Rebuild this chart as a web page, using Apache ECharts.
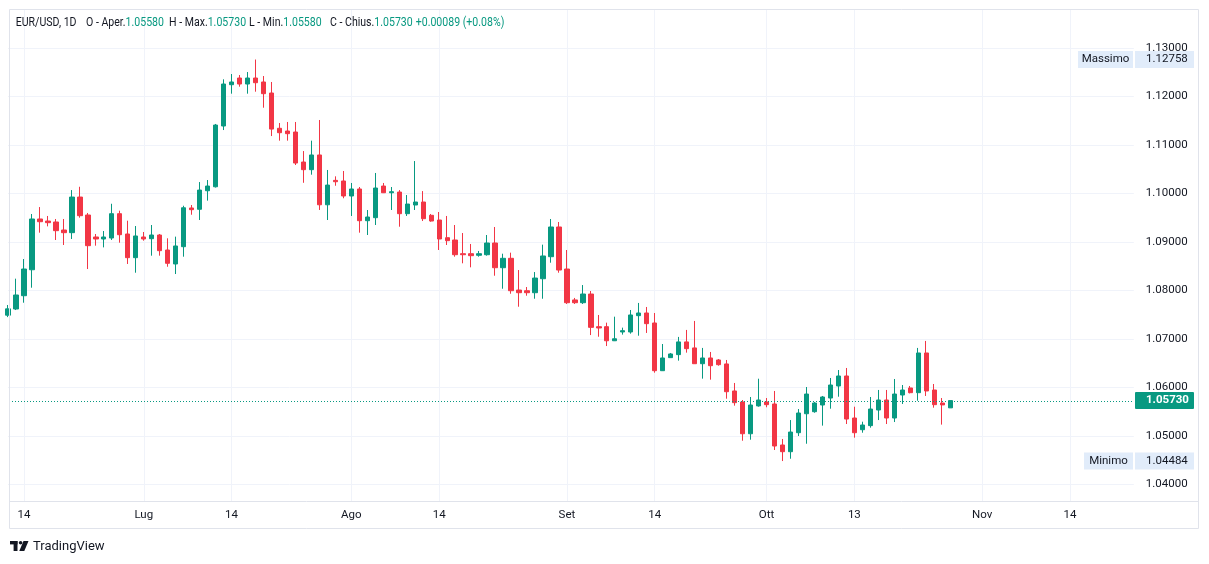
<!DOCTYPE html>
<html><head><meta charset="utf-8">
<script src="https://cdn.jsdelivr.net/npm/echarts@6/dist/echarts.min.js"></script>
<style>html,body{margin:0;padding:0;background:#fff}#c{width:1209px;height:564px}</style>
</head><body><div id="c"></div>
<script>
// ---- data (EUR/USD daily, bars Sun–Fri) ----
const symbol = 'EUR/USD, 1D';
const firstDate = '2023-06-12';
const categoryCount = 142; // includes empty future slots
const opens = [1.0749,1.07617,1.07891,1.08426,1.09472,1.0943,1.0941,1.09245,1.0919,1.09924,
1.09554,1.09101,1.0906,1.0908,1.09581,1.09163,1.08675,1.09101,1.09066,1.09142,
1.08833,1.08545,1.08901,1.09699,1.09672,1.10054,1.10136,1.11388,1.12239,1.12377,
1.12253,1.12377,1.12295,1.12068,1.11341,1.11285,1.11264,1.10646,1.10488,1.10791,
1.09765,1.10268,1.10255,1.09946,1.1009,1.09437,1.09499,1.10151,1.10013,1.10027,
1.09581,1.0976,1.09822,1.09548,1.09451,1.09087,1.09039,1.08757,1.08757,1.08724,
1.08736,1.08977,1.08468,1.08662,1.08008,1.07994,1.07953,1.08241,1.08695,1.09307,
1.08441,1.07804,1.07747,1.07926,1.07253,1.07253,1.06963,1.07144,1.07144,1.0748,
1.07535,1.07329,1.06346,1.06615,1.06677,1.06939,1.06815,1.0649,1.06608,1.06567,
1.06485,1.05928,1.05701,1.05047,1.0562,1.05701,1.0566,1.04815,1.04677,1.05068,
1.05459,1.05501,1.05639,1.05783,1.06031,1.06237,1.05371,1.0513,1.05214,1.05536,
1.05742,1.05371,1.05845,1.0599,1.05893,1.06711,1.05948,1.0568,1.0558];
const highs = [1.0770,1.08242,1.08647,1.09575,1.09718,1.09534,1.09472,1.09472,1.10068,1.10136,
1.09596,1.09163,1.09224,1.09786,1.09643,1.09437,1.09327,1.09204,1.09348,1.09163,
1.09074,1.09108,1.09745,1.0976,1.10233,1.10275,1.1143,1.1235,1.12459,1.12439,
1.125,1.12758,1.12418,1.12295,1.1145,1.11471,1.11471,1.10872,1.11086,1.11512,
1.10482,1.10351,1.10461,1.10214,1.10131,1.09657,1.1042,1.10214,1.10131,1.10068,
1.09966,1.10666,1.10047,1.09575,1.09616,1.09534,1.09348,1.09183,1.08957,1.08813,
1.09142,1.09307,1.08757,1.08778,1.0842,1.0807,1.08379,1.08943,1.09472,1.0941,
1.08833,1.07845,1.08111,1.07988,1.07494,1.07336,1.07459,1.07233,1.07597,1.07742,
1.07659,1.07535,1.06896,1.06711,1.07042,1.07186,1.07371,1.06815,1.06732,1.06587,
1.06567,1.06093,1.05742,1.05804,1.06181,1.05783,1.05928,1.04939,1.05329,1.05556,
1.0601,1.05701,1.05825,1.06196,1.0636,1.06402,1.05604,1.05295,1.05804,1.05949,
1.05949,1.06175,1.06051,1.06031,1.06815,1.06959,1.06072,1.05783,1.0573];
const lows = [1.0745,1.07596,1.07747,1.08056,1.0919,1.0932,1.09039,1.08936,1.0906,1.09499,
1.08441,1.08922,1.08887,1.09039,1.08984,1.08545,1.08365,1.09025,1.08716,1.08716,
1.08488,1.08338,1.08695,1.0956,1.09451,1.0985,1.1012,1.11305,1.12054,1.12198,
1.12054,1.12095,1.11765,1.11181,1.11086,1.11086,1.10584,1.10218,1.10385,1.09658,
1.09451,1.10157,1.09899,1.09534,1.0919,1.09142,1.09348,1.10007,1.09657,1.09313,
1.09534,1.09657,1.0943,1.09416,1.08833,1.08936,1.08695,1.08559,1.08476,1.08695,
1.08716,1.08303,1.08035,1.07932,1.07664,1.07891,1.07829,1.07829,1.08571,1.08365,
1.07721,1.07721,1.07721,1.0708,1.07046,1.06854,1.06957,1.07089,1.07109,1.07067,
1.07124,1.06305,1.0634,1.06615,1.06553,1.06718,1.06485,1.06182,1.06161,1.06449,
1.05769,1.05625,1.04903,1.04924,1.05605,1.05592,1.04712,1.04484,1.04532,1.05,
1.04841,1.0548,1.05214,1.05563,1.0581,1.05247,1.04966,1.05068,1.05172,1.05329,
1.05247,1.05288,1.0566,1.05879,1.05727,1.05825,1.05584,1.05235,1.0558];
const closes = [1.0762,1.07906,1.08441,1.09472,1.09416,1.09396,1.09231,1.0919,1.09924,1.0954,
1.08922,1.0906,1.09101,1.09581,1.09148,1.08675,1.09122,1.0906,1.09142,1.08819,
1.08559,1.08916,1.09703,1.09664,1.10068,1.10151,1.11408,1.12253,1.12295,1.12253,
1.12377,1.1228,1.12054,1.11325,1.1125,1.1123,1.10625,1.10488,1.10791,1.09765,
1.10171,1.1024,1.09946,1.1009,1.09437,1.09513,1.1011,1.10013,1.10034,1.09581,
1.0978,1.09822,1.09478,1.0943,1.0906,1.09025,1.08736,1.08736,1.08716,1.08757,
1.08977,1.08468,1.08662,1.07994,1.07953,1.07953,1.08255,1.0871,1.09307,1.0842,
1.07747,1.07747,1.07926,1.07239,1.07226,1.06963,1.07004,1.07171,1.07494,1.07535,
1.07315,1.06346,1.06608,1.06691,1.06939,1.068,1.0649,1.06608,1.06449,1.0647,
1.05913,1.05687,1.05047,1.05639,1.05742,1.05646,1.04794,1.04677,1.05082,1.05474,
1.05865,1.0568,1.05804,1.06051,1.06237,1.0535,1.05068,1.05227,1.05556,1.05742,
1.05371,1.05865,1.05948,1.05893,1.06711,1.05928,1.05646,1.05641,1.0573];
const tickLabels = {'2023-06-14':'14','2023-07-02':'Lug','2023-07-14':'14','2023-08-01':'Ago',
'2023-08-14':'14','2023-09-01':'Set','2023-09-14':'14','2023-10-01':'Ott','2023-10-13':'13',
'2023-11-01':'Nov','2023-11-14':'14'};
const priceTicks = [1.04,1.05,1.06,1.07,1.08,1.09,1.10,1.11,1.12,1.13];

// ---- build ----
const categories = [];
{
  let t = Date.parse(firstDate + 'T00:00:00Z');
  while (categories.length < categoryCount) {
    const d = new Date(t);
    if (d.getUTCDay() !== 6) categories.push(d.toISOString().slice(0, 10));
    t += 86400000;
  }
}
const ohlc = opens.map((o, i) => [o, closes[i], lows[i], highs[i]]);
const n = closes.length;
const lastClose = closes[n - 1];
const maxHigh = Math.max(...highs);
const minLow = Math.min(...lows);
const change = lastClose - closes[n - 2];
const changePct = change / closes[n - 2] * 100;

const UP = '#089981', DOWN = '#F23645', TXT = '#131722', GRID = '#f0f3fa', BORDER = '#e0e3eb';
const FONT = 'Roboto, "Liberation Sans", sans-serif';
const isTick = (idx, val) => !!tickLabels[val];

const chart = echarts.init(document.getElementById('c'), null, {renderer: 'canvas'});
chart.setOption({
  animation: false,
  backgroundColor: '#ffffff',
  grid: {left: 8.03, right: 75.2, top: 9, bottom: 63, containLabel: false},
  xAxis: {
    type: 'category', data: categories, boundaryGap: false,
    axisLine: {show: false},
    axisTick: {show: false, interval: isTick},
    axisLabel: {interval: isTick, formatter: v => tickLabels[v] || '', color: TXT,
      fontSize: 11.5, fontFamily: FONT, margin: 8},
    splitLine: {show: true, interval: isTick, lineStyle: {color: GRID, width: 1}}
  },
  yAxis: {
    type: 'value', position: 'right', min: 1.03661, max: 1.13799,
    axisLine: {show: false},
    axisTick: {show: false, customValues: priceTicks},
    axisLabel: {customValues: priceTicks, formatter: v => v.toFixed(5), color: TXT,
      fontSize: 11.5, fontFamily: FONT, margin: 12, align: 'left'},
    splitLine: {show: true, lineStyle: {color: GRID, width: 1}}
  },
  series: [{
    type: 'candlestick', data: ohlc, barWidth: 4.8, clip: true,
    itemStyle: {color: UP, color0: DOWN, borderColor: UP, borderColor0: DOWN, borderWidth: 1}
  }]
});

const yPix = v => chart.convertToPixel({yAxisIndex: 0}, v);
const fmt = v => v.toFixed(5);
const sign = v => (v >= 0 ? '+' : '');
const header = [
  {x: 15.7, parts: [[symbol, 'l']]},
  {x: 86, parts: [['O - Aper.', 'l'], [fmt(opens[n - 1]), 'v']]},
  {x: 169, parts: [['H - Max.', 'l'], [fmt(highs[n - 1]), 'v']]},
  {x: 249, parts: [['L - Min.', 'l'], [fmt(lows[n - 1]), 'v']]},
  {x: 330, parts: [['C - Chius.', 'l'], [fmt(lastClose), 'v']]},
  {x: 415.7, parts: [[sign(change) + change.toFixed(5) + ' (' + sign(changePct) + changePct.toFixed(2) + '%)', 'v']]}
];
const g = [];
// frame
g.push({type: 'rect', z: 50, shape: {x: 9.5, y: 9.5, width: 1189, height: 519}, style: {fill: null, stroke: BORDER, lineWidth: 1}});
g.push({type: 'line', z: 50, shape: {x1: 9, y1: 501.5, x2: 1199, y2: 501.5}, style: {stroke: BORDER, lineWidth: 1}});
// last price dotted line
const yl = Math.round(yPix(lastClose)) + 0.5;
g.push({type: 'line', z: 40, shape: {x1: 9, y1: yl, x2: 1134, y2: yl}, style: {stroke: UP, lineWidth: 1, lineDash: [1, 2]}});
header.forEach(h => g.push({type: 'text', z: 60, x: h.x, y: 23, scaleX: 0.88,
  style: {text: h.parts.map(p => '{' + p[1] + '|' + p[0] + '}').join(''), font: '12px ' + FONT,
    verticalAlign: 'middle', align: 'left',
    rich: {l: {fill: TXT, font: '12px ' + FONT}, v: {fill: UP, font: '12px ' + FONT}}}}));
// price tags
function tag(label, value, y) {
  if (label) {
    const w = label === 'Massimo' ? 55 : 49;
    g.push({type: 'rect', z: 70, shape: {x: 1133 - w, y: y - 8.5, width: w, height: 17}, style: {fill: '#e1ecfa'}});
    g.push({type: 'text', z: 71, x: 1133 - w / 2, y: y,
      style: {text: label, fill: TXT, font: '11.5px ' + FONT, align: 'center', verticalAlign: 'middle'}});
    g.push({type: 'rect', z: 70, shape: {x: 1135, y: y - 8.5, width: 59, height: 17}, style: {fill: '#e1ecfa'}});
    g.push({type: 'text', z: 71, x: 1146, y: y,
      style: {text: fmt(value), fill: TXT, font: '11.5px ' + FONT, align: 'left', verticalAlign: 'middle'}});
  } else {
    g.push({type: 'rect', z: 70, shape: {x: 1135, y: y - 8.5, width: 59, height: 17, r: 1}, style: {fill: UP}});
    g.push({type: 'text', z: 71, x: 1146, y: y,
      style: {text: fmt(value), fill: '#ffffff', font: 'bold 11.5px ' + FONT, align: 'left', verticalAlign: 'middle'}});
  }
}
tag('Massimo', maxHigh, yPix(maxHigh));
tag('Minimo', minLow, yPix(minLow));
tag(null, lastClose, yPix(lastClose));
// watermark
g.push({type: 'rect', z: 60, shape: {x: 10, y: 541, width: 7.5, height: 3.4}, style: {fill: TXT}});
g.push({type: 'rect', z: 60, shape: {x: 13.6, y: 541, width: 3.9, height: 10}, style: {fill: TXT}});
g.push({type: 'circle', z: 60, shape: {cx: 20.6, cy: 542.8, r: 1.8}, style: {fill: TXT}});
g.push({type: 'polygon', z: 60, shape: {points: [[23.5, 541], [28.5, 541], [24.3, 551], [19.3, 551]]}, style: {fill: TXT}});
g.push({type: 'text', z: 60, x: 33, y: 546.5,
  style: {text: 'TradingView', fill: TXT, font: '13px ' + FONT, verticalAlign: 'middle'}});
chart.setOption({graphic: g});
</script>
</body></html>
